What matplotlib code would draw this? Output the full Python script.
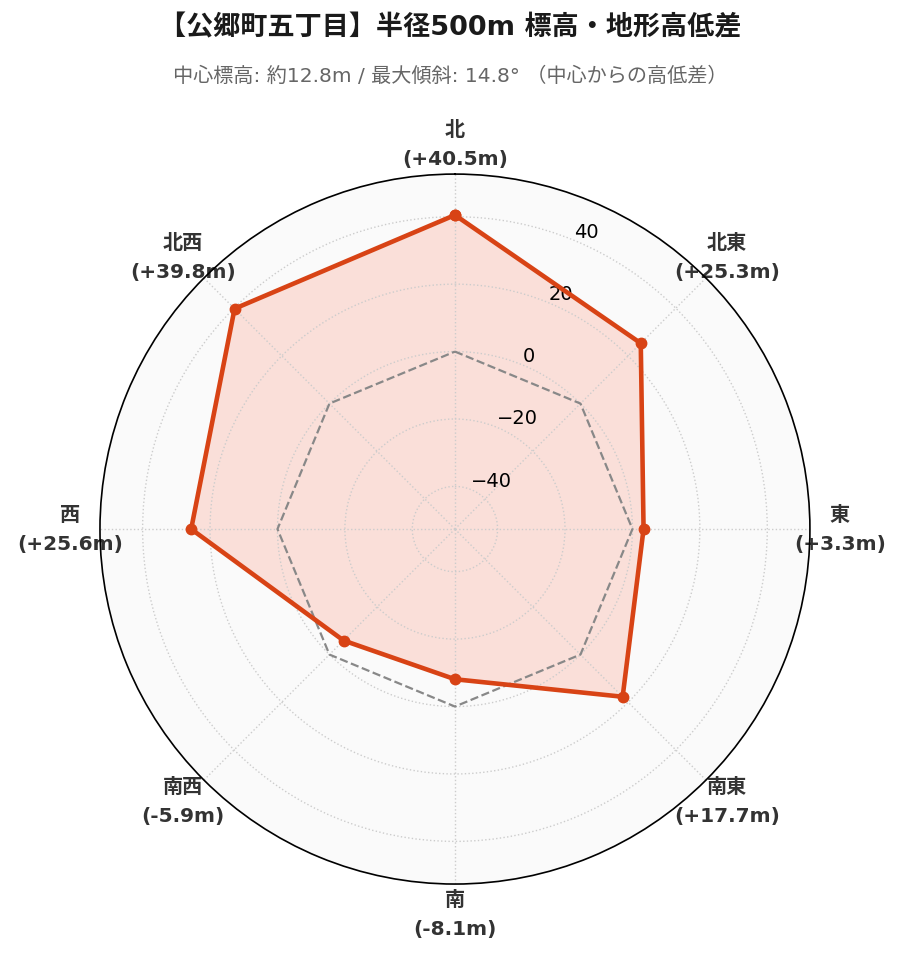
import numpy as np
import matplotlib
matplotlib.use('Agg')
import matplotlib.pyplot as plt

plt.rcParams['font.family'] = ['DejaVu Sans', 'Noto Sans CJK JP']

# data
directions = ['北', '北東', '東', '南東', '南', '南西', '西', '北西']
heights = [40.5, 25.3, 3.3, 17.7, -8.1, -5.9, 25.6, 39.8]
r_ticks = [-40, -20, 0, 20, 40]

title = '【公郷町五丁目】半径500m 標高・地形高低差'
subtitle = '中心標高: 約12.8m / 最大傾斜: 14.8° （中心からの高低差）'

line_color = '#d84315'

n = len(directions)
angles = np.linspace(0, 2 * np.pi, n, endpoint=False)
ang_closed = np.append(angles, angles[0])
val_closed = np.append(heights, heights[0])

fig = plt.figure(figsize=(9, 9.62), dpi=100)
ax = fig.add_axes([0.111, 0.08, 0.789, 0.738], projection='polar')
ax.set_theta_zero_location('N')
ax.set_theta_direction(-1)
ax.set_facecolor('#fafafa')

lim = max(abs(v) for v in heights) * 1.3
ax.set_ylim(-lim, lim)

# zero reference
ax.plot(ang_closed, np.zeros(n + 1), color='#888888', lw=1.6, ls='--', zorder=2)

ax.fill(ang_closed, val_closed, color='#ff7355', alpha=0.2, zorder=1)
ax.plot(ang_closed, val_closed, color=line_color, lw=3.3, marker='o', ms=7.5, zorder=3)

labels = [f'{d}\n({v:+.1f}m)' for d, v in zip(directions, heights)]
ax.set_xticks(angles)
ax.set_xticklabels(labels, fontsize=14.5, fontweight='bold', color='#333333',
                   linespacing=1.65)
ax.tick_params(axis='x', pad=11)

ax.set_yticks(r_ticks)
ax.set_yticklabels([f'{t}'.replace('-', '\u2212') for t in r_ticks], fontsize=14)

ax.grid(True, color='#cccccc', ls=':', lw=1.0)
ax.spines['polar'].set_color('black')
ax.spines['polar'].set_linewidth(1.2)

fig.text(0.5, 0.971, title, ha='center', va='center', fontsize=19.5,
         fontweight='bold', color='#1a1a1a')
fig.text(0.5, 0.921, subtitle, ha='center', va='center', fontsize=14.5,
         color='#666666')

fig.savefig('out.png', dpi=100)
